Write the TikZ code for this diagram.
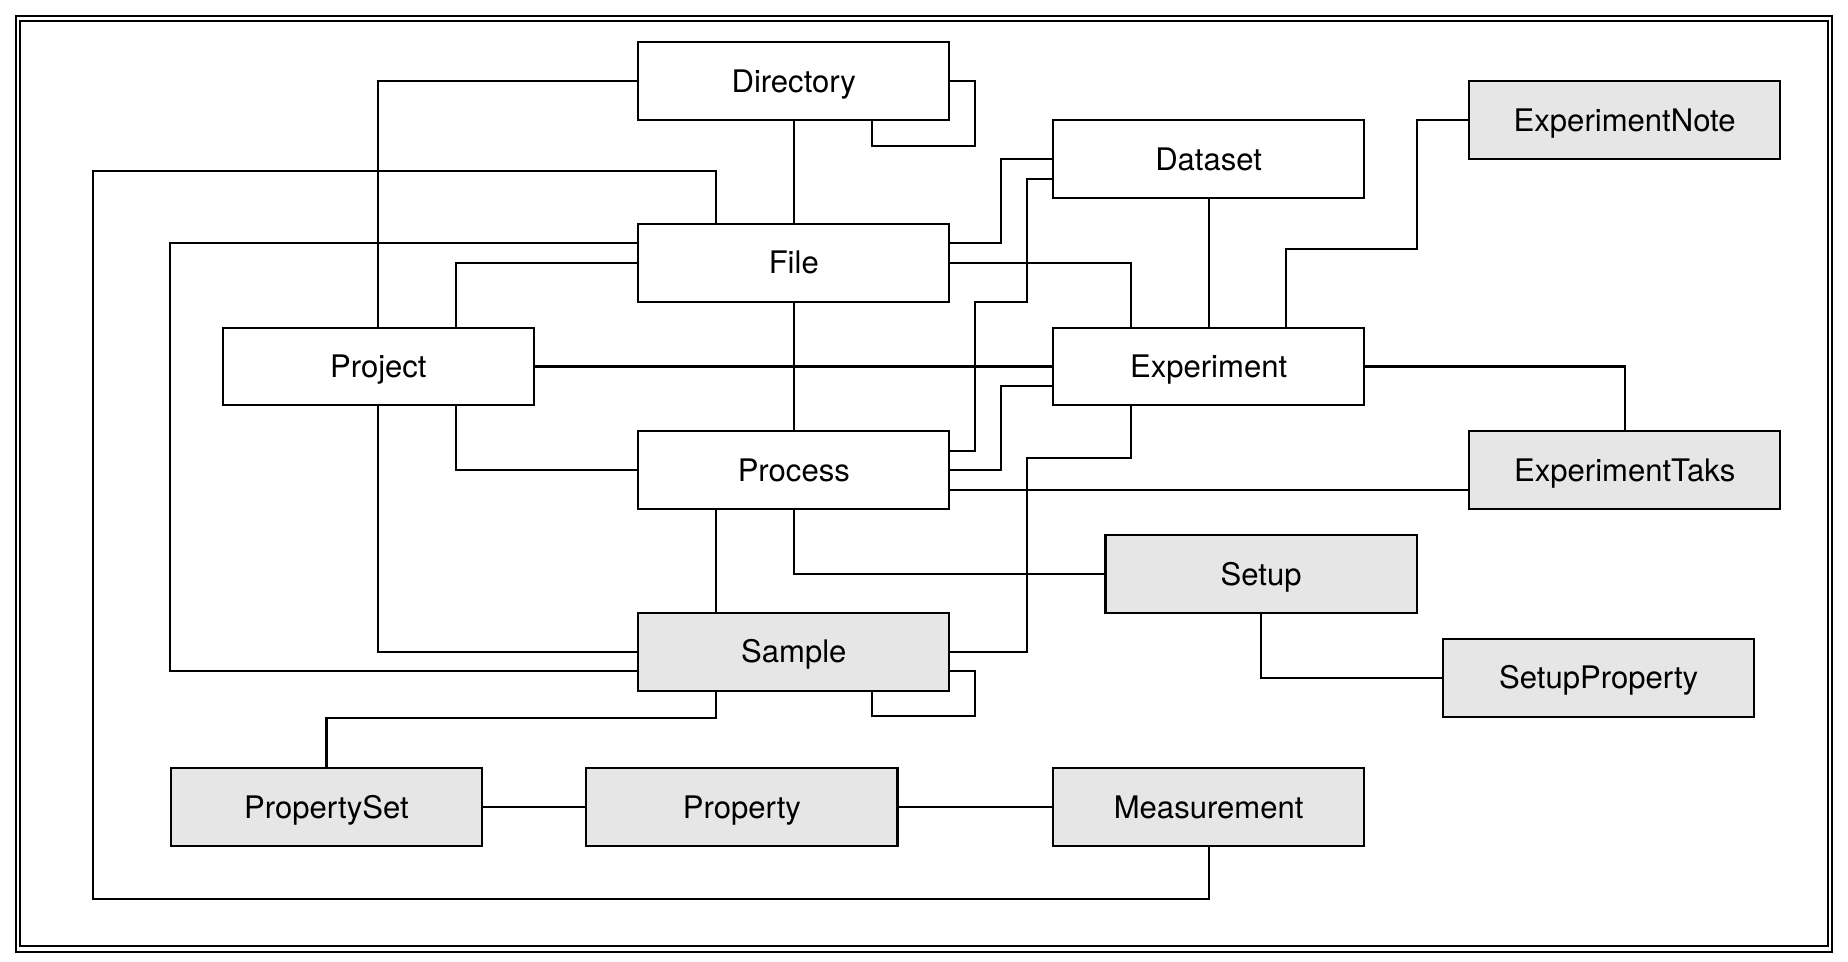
\documentclass[tikz,border=0pt]{standalone}
\usepackage{fontspec}
\setmainfont{TeX Gyre Heros}
\usepackage{xcolor}
\usepackage{tikz}
\definecolor{entityGrey}{HTML}{E6E6E6}
\tikzstyle{entity} = [rectangle, draw, line width = 1pt, minimum width = 5.28cm, minimum height = 1.32cm, inner sep = 0pt, text height = 10.8pt, text depth = 0pt, font = \fontsize{15}{18}\selectfont]
\tikzstyle{entityShaded} = [entity, fill = entityGrey]
\tikzstyle{link} = [line width = 1pt]
\tikzstyle{nobox} = [rectangle, draw = none, inner sep = 0pt, minimum size = 0pt]
\begin{document}
\begin{tikzpicture}[node distance = 1cm]
        \useasboundingbox (0,0) rectangle (31.36,16.32);
        % frame
        \draw[line width = 1pt] (0.264,0.166) rectangle (31.09,16.05);
        \draw[line width = 0.8pt] (0.34,0.268) rectangle (31.02,15.96);
        \node(Dir) [entity] at (13.47,14.94) {Directory};
        \node(File) [entity, below of = Dir, node distance = 3.08cm] {File};
        \node(Proc) [entity, below of = File, node distance = 3.52cm] {Process};
        \node(Samp) [entityShaded, below of = Proc, node distance = 3.08cm] {Sample};
        \node(belowofFile) [nobox, below of = File, node distance = 1.76cm] {};
        \node(Proj) [entity, left of = belowofFile, node distance = 7.05cm] {Project};
        \node(Exp) [entity, right of = belowofFile, node distance = 7.04cm] {Experiment};
        \node(Data) [entity, above of = Exp, node distance = 3.52cm] {Dataset};
        \node(ETask) [entityShaded, right of = Proc, node distance = 14.1cm] {ExperimentTaks};
        \node(ENote) [entityShaded, above of = ETask, node distance = 5.94cm] {ExperimentNote};
        \node(Setup) [entityShaded] at (21.4,6.58) {Setup};
        \node(SetupP) [entityShaded] at (27.13,4.82) {SetupProperty};
        \node(Meas) [entityShaded, below of = Exp, node distance = 7.48cm] {Measurement};
        \node(Prop) [entityShaded, left of = Meas, node distance = 7.92cm] {Property};
        \node(PSet) [entityShaded, left of = Prop, node distance = 7.05cm] {PropertySet};
        % Directory
        \draw[link] (Dir.west) -| (Proj.north);
        \draw[link] (Dir.east) -- ++(0.42,0) -- ++(0,-1.1) -| ([xshift = 1.32cm]Dir.south);
        \draw[link] (Dir) -- (File);
        % File
        \draw[link] (Meas.south) -- ++(0,-0.88) -- ++(-18.93,0) |- ([xshift = -1.32cm, yshift = 0.88cm]File.north) -- ([xshift = -1.32cm]File.north);
        \draw[link] ([yshift = 0.33cm]File.west) -- ++(-7.92,0) |- ([yshift = -0.33cm]Samp.west);
        \draw[link] (File.west) -| ([xshift = 1.32cm]Proj.north);
        \draw[link] ([yshift = 0.33cm]File.east) -- ++(0.86,0) |- (Data.west);
        \draw[link] (File.east) -| ([xshift = -1.32cm]Exp.north);
        \draw[link] (File) -- (Proc);
        % Experiment
        \draw[link] (Proj) -- (Exp);
        \draw[link] (Data) -- (Exp);
        \draw[link] ([xshift = 1.32cm]Exp.north) -- ++(0,1.32) -- ++(2.22,0) |- (ENote.west);
        \draw[link] (Exp.east) -| (ETask.north);
        % Process
        \draw[link] ([yshift = 0.33cm]Proc.east) -- ++(0.42,0) -- ++(0,2.52) -- ++(0.88,0) |- ([yshift = -0.33cm]Data.west);
        \draw[link] ([xshift = 1.32cm]Proj.south) |- (Proc.west);
        \draw[link] (Proc.east) -- ++(0.86,0) |- ([yshift = -0.33cm]Exp.west);
        \draw[link] ([yshift = -0.33cm]Proc.east) -- ([yshift = -0.33cm]ETask.west);
        \draw[link] (Proc.south) |- (Setup.west);
        \draw[link] ([xshift = -1.32cm]Proc.south) -- ([xshift = -1.32cm]Samp.north);
        % Sample
        \draw[link] (Samp.east) -- ++(1.3,0) |- ([xshift = -1.32cm, yshift = -0.88cm]Exp.south) -- ([xshift = -1.32cm]Exp.south);
        \draw[link] (Proj.south) |- (Samp.west);
        \draw[link] ([yshift = -0.33cm]Samp.east) -- ++(0.42,0) -- ++(0,-0.76) -| ([xshift = 1.32cm]Samp.south);
        \draw[link] ([xshift = -1.32cm]Samp.south) -- ++(0,-0.44) -| (PSet.north);
        % Setup and Property
        \draw[link] (Setup.south) |- (SetupP.west);
        \draw[link] (PSet) -- (Prop);
        \draw[link] (Prop) -- (Meas);
    \end{tikzpicture}
\end{document}
